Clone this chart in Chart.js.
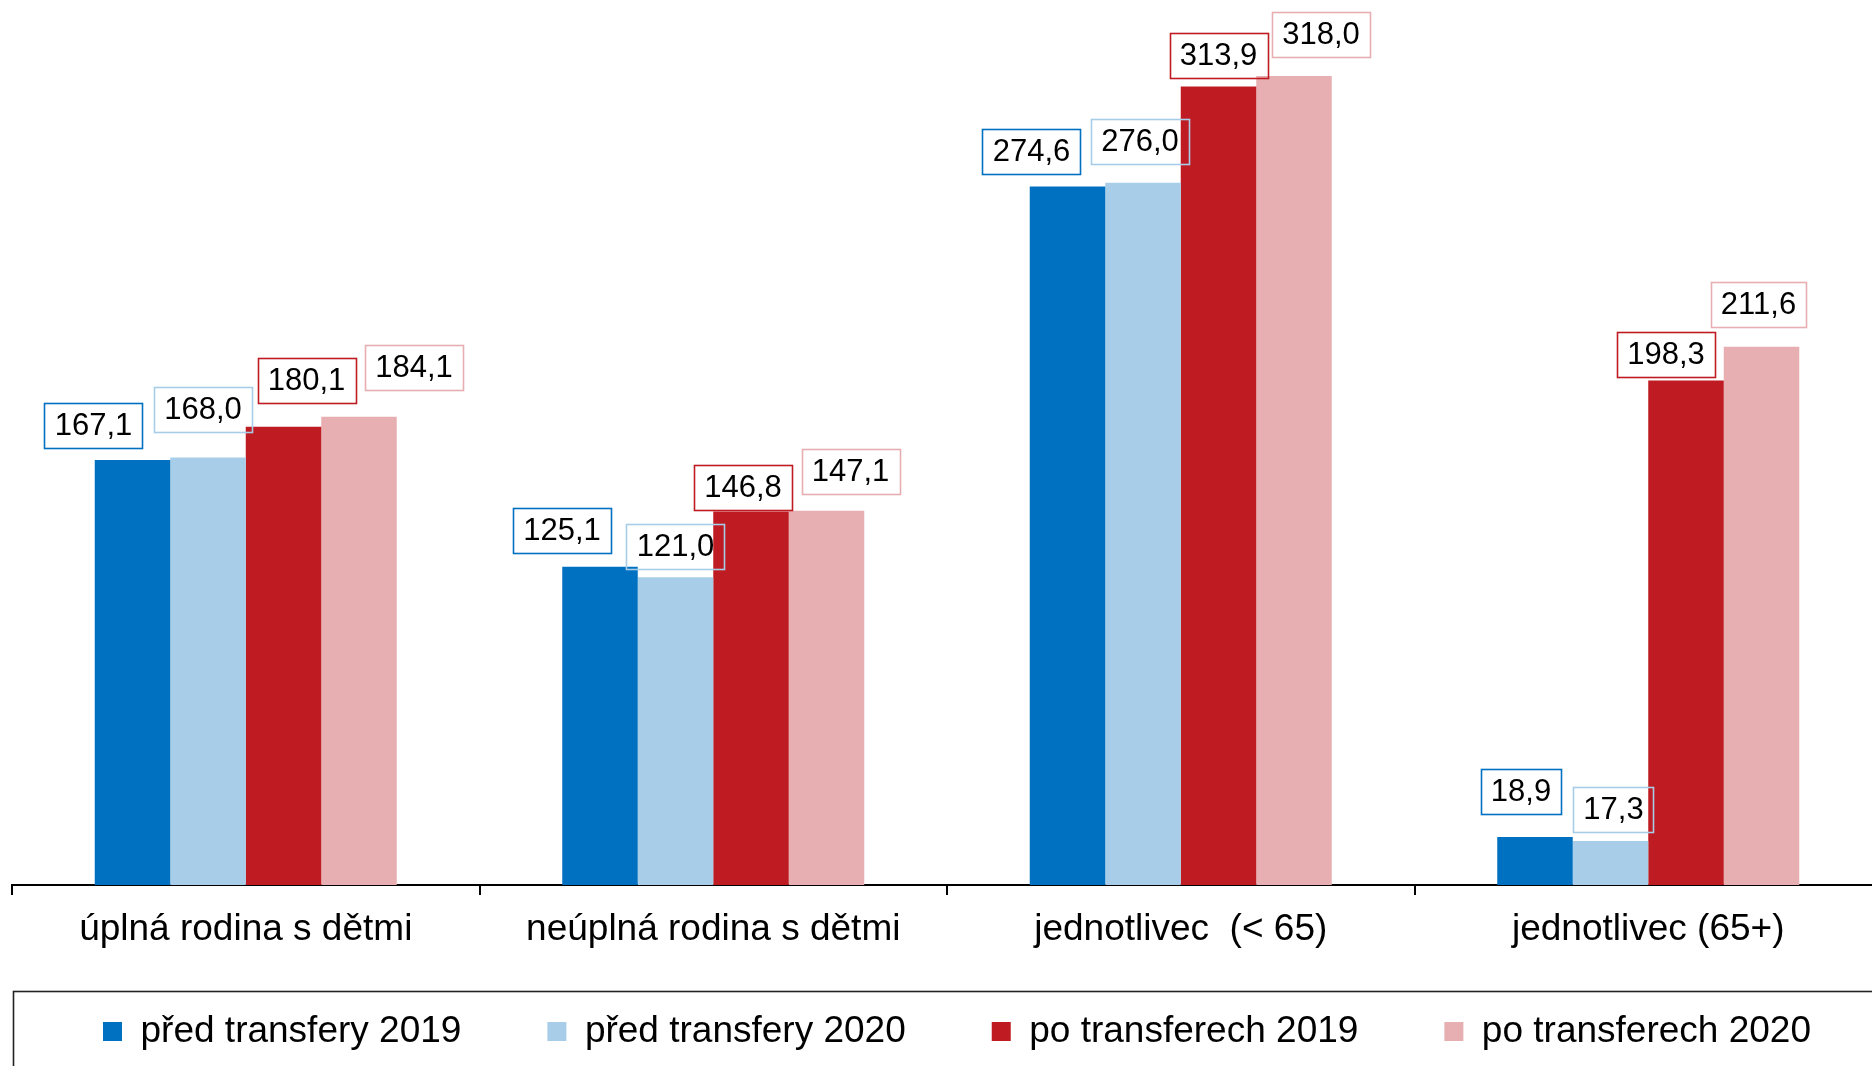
<!DOCTYPE html>
<html><head><meta charset="utf-8">
<script src="https://cdn.jsdelivr.net/npm/chart.js@4/dist/chart.umd.min.js"></script>
<style>
html,body{margin:0;padding:0;overflow:hidden;background:#fff;width:1872px;height:1066px}
#wrap{position:absolute;left:0;top:0;width:1914px;height:1080px}
</style></head><body><div id="wrap"><canvas id="c" width="1914" height="1080"></canvas></div>
<script>
const categories = ['úplná rodina s dětmi', 'neúplná rodina s dětmi', 'jednotlivec  (< 65)', 'jednotlivec (65+)'];
const seriesNames = ['před transfery 2019', 'před transfery 2020', 'po transferech 2019', 'po transferech 2020'];
const before2019 = [167.1, 125.1, 274.6, 18.9];
const before2020 = [168.0, 121.0, 276.0, 17.3];
const after2019 = [180.1, 146.8, 313.9, 198.3];
const after2020 = [184.1, 147.1, 318.0, 211.6];

const colors = ['#0070C0', '#A7CDE8', '#BE1B22', '#E8AFB2'];
// label box placement relative to the top-centre of each bar (px): horizontal shift, gap above bar
const labelDx = [[-39, -38, -36, -14], [-5, 0, -3, 3], [23, -8, 0, -20], [55, 24, 27, -3]];
const labelGap = [[12, 14, 12, 23], [26, 8, 19, 9], [24, 2, 8, 4], [27, 17, 19, 20]];

const FONT = '"Liberation Sans", Arial, Helvetica, sans-serif';
const fmt = v => v.toFixed(1).replace('.', ',');

const labelPlugin = {
  id: 'boxLabels',
  afterDatasetsDraw(chart) {
    const ctx = chart.ctx;
    ctx.save();
    ctx.font = '31px ' + FONT;
    ctx.textAlign = 'center';
    ctx.textBaseline = 'middle';
    chart.data.datasets.forEach((ds, i) => {
      const meta = chart.getDatasetMeta(i);
      meta.data.forEach((bar, j) => {
        const txt = fmt(ds.data[j]);
        const w = Math.round(ctx.measureText(txt).width + 20);
        const h = 45;
        const cx = bar.x + labelDx[i][j];
        const bottom = bar.y - labelGap[i][j];
        ctx.lineWidth = 1.6;
        ctx.strokeStyle = colors[i];
        ctx.strokeRect(Math.round(cx - w / 2) + 0.5, Math.round(bottom - h) + 0.5, w, h);
        ctx.fillStyle = '#000';
        ctx.fillText(txt, cx, bottom - h / 2 + 1);
      });
    });
    ctx.restore();
  }
};

const legendFrame = {
  id: 'legendFrame',
  afterDraw(chart) {
    const ctx = chart.ctx;
    ctx.save();
    ctx.lineWidth = 1.6;
    ctx.strokeStyle = '#222';
    ctx.strokeRect(13.5, 991.5, 4000, 1000);
    ctx.restore();
  }
};

const seriesData = [before2019, before2020, after2019, after2020];

new Chart(document.getElementById('c'), {
  type: 'bar',
  data: {
    labels: categories,
    datasets: seriesData.map((d, i) => ({
      label: seriesNames[i],
      data: d,
      backgroundColor: colors[i],
      borderColor: colors[i],
      borderWidth: 0,
      categoryPercentage: 0.646,
      barPercentage: 1.0
    }))
  },
  options: {
    responsive: false,
    animation: false,
    devicePixelRatio: 1,
    layout: { padding: { top: 20, bottom: 20, left: 0, right: 0 } },
    plugins: {
      tooltip: { enabled: false },
      legend: {
        display: true,
        position: 'bottom',
        labels: {
          boxWidth: 19,
          boxHeight: 19,
          padding: 86,
          color: '#000',
          font: { family: FONT, size: 37 }
        }
      }
    },
    scales: {
      x: {
        type: 'category',
        offset: true,
        grid: {
          display: true,
          drawOnChartArea: false,
          drawTicks: true,
          tickLength: 10,
          color: '#000',
          lineWidth: 2,
          offset: true
        },
        border: { display: true, color: '#000', width: 2 },
        ticks: {
          color: '#000',
          mirror: true,
          padding: -67,
          maxRotation: 0,
          autoSkip: false,
          font: { family: FONT, size: 37 }
        },
        afterFit(scale) { scale.height = 42; }
      },
      y: {
        position: 'left',
        min: 0,
        max: 340,
        display: true,
        grid: { display: false },
        border: { display: false },
        ticks: { display: false },
        afterFit(scale) { scale.width = 12; }
      },
      y2: {
        type: 'linear',
        position: 'right',
        display: true,
        grid: { display: false },
        border: { display: false },
        ticks: { display: false },
        afterFit(scale) { scale.width = 32; }
      }
    }
  },
  plugins: [labelPlugin, legendFrame]
});
</script></body></html>
